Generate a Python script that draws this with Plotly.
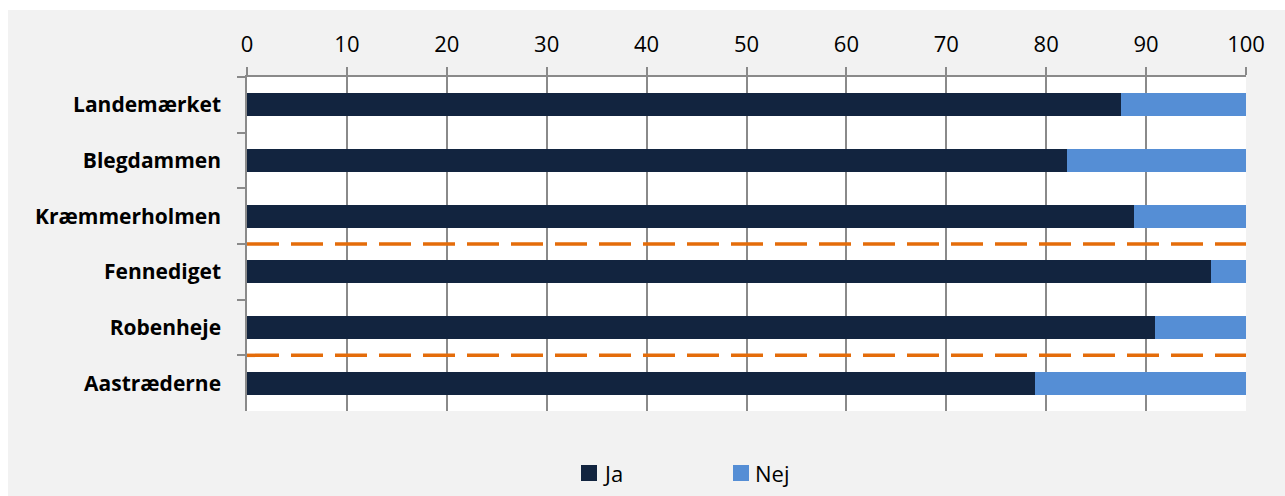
import plotly.graph_objects as go

# Share of answers per housing estate (percent)
estates = ["Landemærket", "Blegdammen", "Kræmmerholmen", "Fennediget", "Robenheje", "Aastræderne"]
ja = [87.5, 82.1, 88.8, 96.5, 90.9, 78.9]
nej = [12.5, 17.9, 11.2, 3.5, 9.1, 21.1]
series_names = ["Ja", "Nej"]
series_colors = ["#12243f", "#558ed5"]

# group separators: a dashed line is drawn below each of these estates
separators_after = ["Kræmmerholmen", "Robenheje"]

W, H = 1285, 496
L, R, T, B = 247, 39, 77, 85
pw, ph = W - L - R, H - T - B
FONT = "Open Sans"
GRID = "#8a8a8a"


def px_x(px):
    """pixel column -> paper x"""
    return (px - L) / pw


def px_y(py):
    """pixel row -> paper y"""
    return (H - B - py) / ph


fig = go.Figure()
for name, vals, col in zip(series_names, [ja, nej], series_colors):
    fig.add_trace(go.Bar(
        y=estates, x=vals, name=name, orientation="h",
        marker=dict(color=col, line=dict(width=0)),
        showlegend=False,
    ))

for est in separators_after:
    i = estates.index(est) + 0.5
    fig.add_shape(type="line", xref="x", yref="y", x0=0, x1=100, y0=i, y1=i,
                  line=dict(color="#e46c0a", width=3.5, dash="32px,12px"))

# white page margin around the grey chart panel
fig.add_shape(type="rect", xref="paper", yref="paper", layer="below",
              x0=px_x(-5), x1=px_x(W + 5), y0=px_y(10), y1=px_y(-5),
              fillcolor="white", line=dict(width=0))
fig.add_shape(type="rect", xref="paper", yref="paper", layer="below",
              x0=px_x(-5), x1=px_x(8), y0=px_y(H + 5), y1=px_y(-5),
              fillcolor="white", line=dict(width=0))

# legend: square swatch followed by the series name
legend_left = [581, 733]
sw = 16
leg_cy = 473
for name, col, lx in zip(series_names, series_colors, legend_left):
    fig.add_shape(type="rect", xref="paper", yref="paper",
                  x0=px_x(lx), x1=px_x(lx + sw), y0=px_y(leg_cy + sw / 2), y1=px_y(leg_cy - sw / 2),
                  fillcolor=col, line=dict(width=0))
    fig.add_annotation(xref="paper", yref="paper", x=px_x(lx + sw + 4), y=px_y(leg_cy),
                       xanchor="left", yanchor="middle", text=name, showarrow=False,
                       font=dict(family=FONT, size=22, color="black"))

fig.update_layout(
    width=W, height=H,
    margin=dict(l=L, r=R, t=T, b=B),
    paper_bgcolor="#f2f2f2",
    plot_bgcolor="white",
    barmode="stack",
    bargap=0.59,
    showlegend=False,
    font=dict(family=FONT, size=22, color="black"),
    xaxis=dict(side="top", range=[0, 100], dtick=10, tick0=0,
               showgrid=True, gridcolor=GRID, gridwidth=1.5,
               showline=True, linecolor=GRID, linewidth=1.5,
               ticks="outside", ticklen=8, tickcolor=GRID, tickwidth=1.5,
               zeroline=False, tickfont=dict(size=22), ticklabelstandoff=6),
    yaxis=dict(autorange="reversed", tickson="boundaries",
               showline=True, linecolor=GRID, linewidth=1.5,
               ticks="outside", ticklen=8, tickcolor=GRID, tickwidth=1.5,
               showgrid=False, tickfont=dict(size=21, weight="bold"),
               ticklabelstandoff=20),
)

fig.write_html("out.html")
